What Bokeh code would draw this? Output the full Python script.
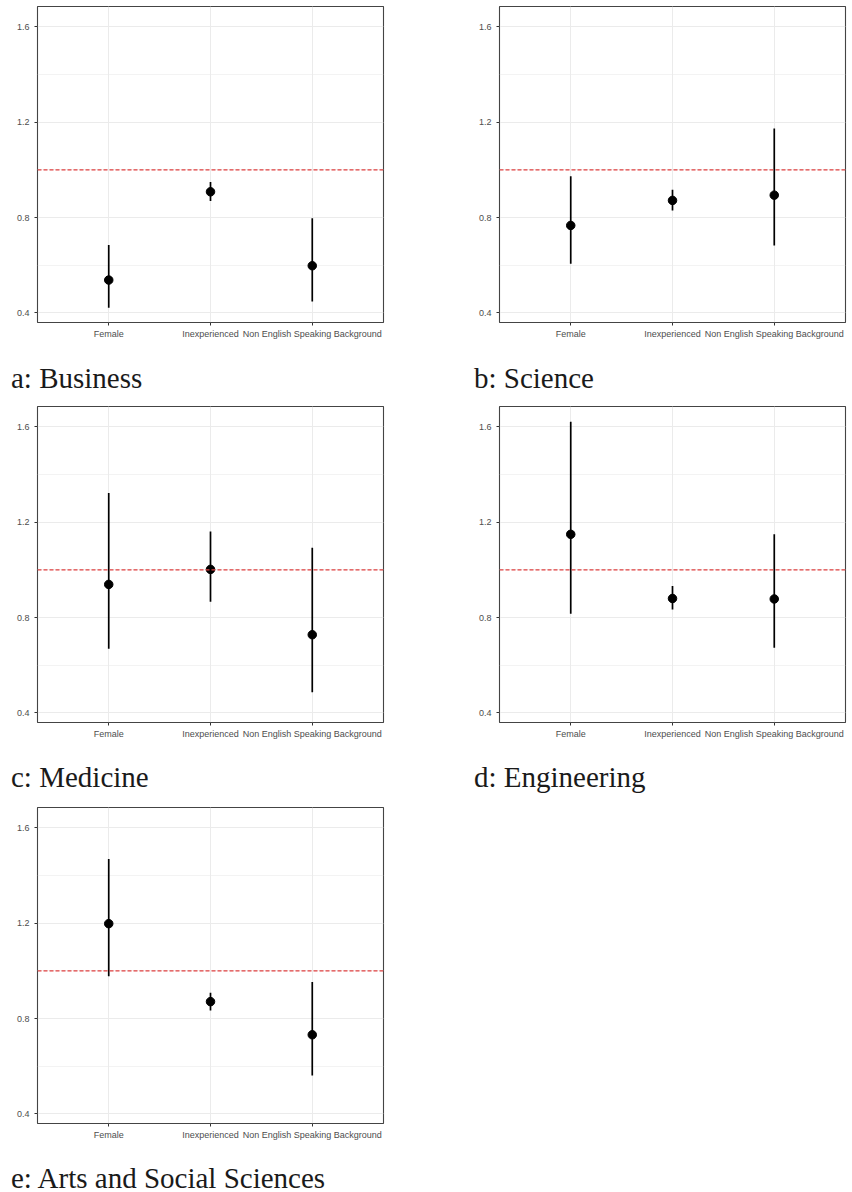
from bokeh.plotting import figure
from bokeh.models import FactorRange, Range1d, Span, FixedTicker, Div
from bokeh.layouts import column, row
from bokeh.embed import file_html
from bokeh.resources import INLINE

# ---------------- data ----------------
categories = ["Female", "Inexperienced", "Non English Speaking Background"]

panel_titles = ["a: Business", "b: Science", "c: Medicine",
                "d: Engineering", "e: Arts and Social Sciences"]

business_est = [0.538, 0.908, 0.598]
business_low = [0.422, 0.869, 0.448]
business_high = [0.685, 0.949, 0.797]

science_est = [0.767, 0.872, 0.894]
science_low = [0.606, 0.830, 0.683]
science_high = [0.973, 0.917, 1.173]

medicine_est = [0.939, 1.002, 0.728]
medicine_low = [0.669, 0.866, 0.487]
medicine_high = [1.322, 1.161, 1.093]

engineering_est = [1.149, 0.880, 0.878]
engineering_low = [0.816, 0.834, 0.673]
engineering_high = [1.621, 0.932, 1.149]

arts_est = [1.198, 0.871, 0.732]
arts_low = [0.977, 0.834, 0.561]
arts_high = [1.469, 0.908, 0.953]

reference_line = 1.0
y_ticks = [0.4, 0.8, 1.2, 1.6]
y_minor_ticks = [0.6, 1.0, 1.4]
y_limits = (0.36, 1.685)

# ---------------- styling ----------------
GRID = "#ebebeb"
DARK = "#333333"
LABEL = "#4d4d4d"


def make_panel(est, low, high):
    p = figure(
        x_range=FactorRange(factors=categories, range_padding=0.2,
                            range_padding_units="absolute"),
        y_range=Range1d(*y_limits),
        frame_width=346, frame_height=316,
        min_border_left=37, min_border_right=7,
        min_border_top=6, min_border_bottom=20,
        output_backend="svg", toolbar_location=None,
        background_fill_color="white", border_fill_color="white",
    )
    p.outline_line_color = "#444444"
    p.outline_line_width = 1.1

    ticker = FixedTicker(ticks=y_ticks, minor_ticks=y_minor_ticks)
    p.yaxis.ticker = ticker
    p.ygrid.ticker = ticker

    p.xgrid.grid_line_color = GRID
    p.xgrid.grid_line_width = 1
    p.ygrid.grid_line_color = GRID
    p.ygrid.grid_line_width = 1
    p.ygrid.minor_grid_line_color = GRID
    p.ygrid.minor_grid_line_width = 0.6

    for ax in (p.xaxis, p.yaxis):
        ax.axis_line_color = None
        ax.major_tick_line_color = DARK
        ax.major_tick_out = 3
        ax.major_tick_in = 0
        ax.minor_tick_line_color = None
        ax.major_label_text_font = "Liberation Sans"
        ax.major_label_text_font_size = "9px"
        ax.major_label_text_color = LABEL
    p.xaxis.major_label_standoff = 3
    p.yaxis.major_label_standoff = 4

    p.segment(x0=categories, y0=low, x1=categories, y1=high,
              line_color="black", line_width=1.7)
    p.scatter(x=categories, y=est, size=8.5, fill_color="black",
              line_color="black")

    p.add_layout(Span(location=reference_line, dimension="width",
                      line_color="#e04040", line_dash="4 2", line_width=1.2))
    return p


def caption(text, height, pad_top, pad_left):
    html = ('<div style="font-family:\'Liberation Serif\';font-size:29px;'
            'line-height:26px;color:#1a1a1a;white-space:nowrap;'
            f'padding:{pad_top}px 0 0 {pad_left}px;">{text}</div>')
    return Div(text=html, width=390, height=height, margin=0)


pa = make_panel(business_est, business_low, business_high)
pb = make_panel(science_est, science_low, science_high)
pc = make_panel(medicine_est, medicine_low, medicine_high)
pd_ = make_panel(engineering_est, engineering_low, engineering_high)
pe = make_panel(arts_est, arts_low, arts_high)

ca = caption(panel_titles[0], 58, 23, 11)
cb = caption(panel_titles[1], 58, 23, 12)
cc = caption(panel_titles[2], 59, 22, 11)
cd = caption(panel_titles[3], 59, 22, 12)
ce = caption(panel_titles[4], 49, 22, 11)

layout = column(
    row(pa, pb, spacing=72),
    row(ca, cb, spacing=72),
    row(pc, pd_, spacing=72),
    row(cc, cd, spacing=72),
    pe,
    ce,
    spacing=0,
)

open("out.html", "w").write(file_html(layout, INLINE))
